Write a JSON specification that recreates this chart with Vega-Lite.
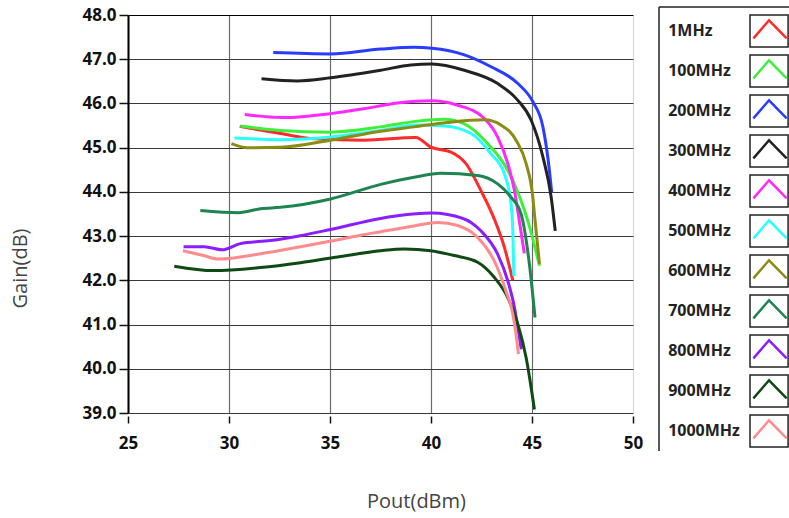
{
  "$schema": "https://vega.github.io/schema/vega-lite/v6.json",
  "background": "white",
  "padding": {"left": 10, "top": 6, "right": 0, "bottom": 4},
  "spacing": 15,
  "config": {"view": {"stroke": null}, "font": "Open Sans"},
  "datasets": {
    "curves": [
      {"f": "1MHz", "p": 30.53, "g": 45.48}, {"f": "1MHz", "p": 32.55, "g": 45.32}, {"f": "1MHz", "p": 34.20, "g": 45.20}, {"f": "1MHz", "p": 36.68, "g": 45.17}, {"f": "1MHz", "p": 39.25, "g": 45.23}, {"f": "1MHz", "p": 39.99, "g": 45.01}, {"f": "1MHz", "p": 40.99, "g": 44.90}, {"f": "1MHz", "p": 41.73, "g": 44.64}, {"f": "1MHz", "p": 42.47, "g": 44.03}, {"f": "1MHz", "p": 43.13, "g": 43.39}, {"f": "1MHz", "p": 43.63, "g": 42.75}, {"f": "1MHz", "p": 44.05, "g": 42.00},
      {"f": "100MHz", "p": 30.56, "g": 45.49}, {"f": "100MHz", "p": 32.55, "g": 45.39}, {"f": "100MHz", "p": 35.03, "g": 45.35}, {"f": "100MHz", "p": 37.51, "g": 45.47}, {"f": "100MHz", "p": 39.33, "g": 45.60}, {"f": "100MHz", "p": 40.65, "g": 45.64}, {"f": "100MHz", "p": 41.65, "g": 45.54}, {"f": "100MHz", "p": 42.81, "g": 45.09}, {"f": "100MHz", "p": 43.80, "g": 44.49}, {"f": "100MHz", "p": 44.46, "g": 43.80}, {"f": "100MHz", "p": 44.79, "g": 43.35}, {"f": "100MHz", "p": 45.37, "g": 42.33},
      {"f": "200MHz", "p": 32.19, "g": 47.15}, {"f": "200MHz", "p": 35.03, "g": 47.12}, {"f": "200MHz", "p": 37.51, "g": 47.23}, {"f": "200MHz", "p": 39.16, "g": 47.27}, {"f": "200MHz", "p": 40.04, "g": 47.25}, {"f": "200MHz", "p": 41.65, "g": 47.10}, {"f": "200MHz", "p": 42.97, "g": 46.83}, {"f": "200MHz", "p": 44.30, "g": 46.45}, {"f": "200MHz", "p": 45.04, "g": 46.04}, {"f": "200MHz", "p": 45.54, "g": 45.47}, {"f": "200MHz", "p": 45.80, "g": 44.72}, {"f": "200MHz", "p": 45.98, "g": 43.97},
      {"f": "300MHz", "p": 31.61, "g": 46.56}, {"f": "300MHz", "p": 33.38, "g": 46.51}, {"f": "300MHz", "p": 35.03, "g": 46.58}, {"f": "300MHz", "p": 37.51, "g": 46.75}, {"f": "300MHz", "p": 39.00, "g": 46.87}, {"f": "300MHz", "p": 40.04, "g": 46.89}, {"f": "300MHz", "p": 41.65, "g": 46.75}, {"f": "300MHz", "p": 43.30, "g": 46.45}, {"f": "300MHz", "p": 44.30, "g": 46.07}, {"f": "300MHz", "p": 44.96, "g": 45.62}, {"f": "300MHz", "p": 45.54, "g": 44.79}, {"f": "300MHz", "p": 45.95, "g": 43.88}, {"f": "300MHz", "p": 46.15, "g": 43.12},
      {"f": "400MHz", "p": 30.78, "g": 45.75}, {"f": "400MHz", "p": 32.63, "g": 45.68}, {"f": "400MHz", "p": 35.03, "g": 45.77}, {"f": "400MHz", "p": 36.68, "g": 45.88}, {"f": "400MHz", "p": 38.34, "g": 46.01}, {"f": "400MHz", "p": 40.04, "g": 46.06}, {"f": "400MHz", "p": 41.32, "g": 45.96}, {"f": "400MHz", "p": 42.64, "g": 45.66}, {"f": "400MHz", "p": 43.30, "g": 45.24}, {"f": "400MHz", "p": 43.80, "g": 44.64}, {"f": "400MHz", "p": 44.13, "g": 44.03}, {"f": "400MHz", "p": 44.37, "g": 43.35}, {"f": "400MHz", "p": 44.62, "g": 42.61},
      {"f": "500MHz", "p": 30.27, "g": 45.22}, {"f": "500MHz", "p": 32.55, "g": 45.18}, {"f": "500MHz", "p": 35.03, "g": 45.24}, {"f": "500MHz", "p": 37.51, "g": 45.39}, {"f": "500MHz", "p": 39.33, "g": 45.51}, {"f": "500MHz", "p": 40.65, "g": 45.49}, {"f": "500MHz", "p": 41.98, "g": 45.32}, {"f": "500MHz", "p": 42.97, "g": 44.86}, {"f": "500MHz", "p": 43.63, "g": 44.41}, {"f": "500MHz", "p": 43.96, "g": 43.73}, {"f": "500MHz", "p": 44.05, "g": 43.12}, {"f": "500MHz", "p": 44.10, "g": 42.10},
      {"f": "600MHz", "p": 30.12, "g": 45.09}, {"f": "600MHz", "p": 30.90, "g": 45.00}, {"f": "600MHz", "p": 32.55, "g": 45.01}, {"f": "600MHz", "p": 35.03, "g": 45.17}, {"f": "600MHz", "p": 37.51, "g": 45.37}, {"f": "600MHz", "p": 39.16, "g": 45.47}, {"f": "600MHz", "p": 40.82, "g": 45.57}, {"f": "600MHz", "p": 42.64, "g": 45.63}, {"f": "600MHz", "p": 43.47, "g": 45.51}, {"f": "600MHz", "p": 44.21, "g": 45.17}, {"f": "600MHz", "p": 44.71, "g": 44.64}, {"f": "600MHz", "p": 45.04, "g": 43.88}, {"f": "600MHz", "p": 45.12, "g": 43.50}, {"f": "600MHz", "p": 45.37, "g": 42.37},
      {"f": "700MHz", "p": 28.58, "g": 43.58}, {"f": "700MHz", "p": 30.48, "g": 43.53}, {"f": "700MHz", "p": 31.56, "g": 43.62}, {"f": "700MHz", "p": 32.55, "g": 43.65}, {"f": "700MHz", "p": 35.03, "g": 43.84}, {"f": "700MHz", "p": 37.51, "g": 44.17}, {"f": "700MHz", "p": 39.16, "g": 44.33}, {"f": "700MHz", "p": 40.49, "g": 44.42}, {"f": "700MHz", "p": 42.31, "g": 44.37}, {"f": "700MHz", "p": 43.30, "g": 44.18}, {"f": "700MHz", "p": 43.96, "g": 43.88}, {"f": "700MHz", "p": 44.46, "g": 43.50}, {"f": "700MHz", "p": 44.87, "g": 42.37}, {"f": "700MHz", "p": 45.15, "g": 41.16},
      {"f": "800MHz", "p": 27.75, "g": 42.76}, {"f": "800MHz", "p": 28.78, "g": 42.76}, {"f": "800MHz", "p": 29.66, "g": 42.69}, {"f": "800MHz", "p": 30.56, "g": 42.83}, {"f": "800MHz", "p": 32.05, "g": 42.90}, {"f": "800MHz", "p": 33.54, "g": 43.01}, {"f": "800MHz", "p": 35.03, "g": 43.15}, {"f": "800MHz", "p": 37.51, "g": 43.40}, {"f": "800MHz", "p": 38.34, "g": 43.46}, {"f": "800MHz", "p": 40.04, "g": 43.52}, {"f": "800MHz", "p": 40.82, "g": 43.49}, {"f": "800MHz", "p": 41.98, "g": 43.31}, {"f": "800MHz", "p": 42.47, "g": 43.12}, {"f": "800MHz", "p": 43.30, "g": 42.59}, {"f": "800MHz", "p": 43.80, "g": 41.99}, {"f": "800MHz", "p": 44.13, "g": 41.39}, {"f": "800MHz", "p": 44.30, "g": 40.93}, {"f": "800MHz", "p": 44.47, "g": 40.44},
      {"f": "900MHz", "p": 27.29, "g": 42.32}, {"f": "900MHz", "p": 29.24, "g": 42.22}, {"f": "900MHz", "p": 31.56, "g": 42.29}, {"f": "900MHz", "p": 33.54, "g": 42.40}, {"f": "900MHz", "p": 35.53, "g": 42.54}, {"f": "900MHz", "p": 37.51, "g": 42.67}, {"f": "900MHz", "p": 38.67, "g": 42.71}, {"f": "900MHz", "p": 39.99, "g": 42.67}, {"f": "900MHz", "p": 41.15, "g": 42.56}, {"f": "900MHz", "p": 42.31, "g": 42.41}, {"f": "900MHz", "p": 43.13, "g": 42.07}, {"f": "900MHz", "p": 43.80, "g": 41.61}, {"f": "900MHz", "p": 44.30, "g": 41.01}, {"f": "900MHz", "p": 44.71, "g": 40.25}, {"f": "900MHz", "p": 45.12, "g": 39.08},
      {"f": "1000MHz", "p": 27.72, "g": 42.67}, {"f": "1000MHz", "p": 28.74, "g": 42.56}, {"f": "1000MHz", "p": 29.49, "g": 42.48}, {"f": "1000MHz", "p": 31.56, "g": 42.60}, {"f": "1000MHz", "p": 33.54, "g": 42.76}, {"f": "1000MHz", "p": 35.53, "g": 42.93}, {"f": "1000MHz", "p": 36.52, "g": 43.02}, {"f": "1000MHz", "p": 37.51, "g": 43.10}, {"f": "1000MHz", "p": 39.16, "g": 43.23}, {"f": "1000MHz", "p": 40.33, "g": 43.31}, {"f": "1000MHz", "p": 41.32, "g": 43.24}, {"f": "1000MHz", "p": 42.31, "g": 42.97}, {"f": "1000MHz", "p": 43.13, "g": 42.44}, {"f": "1000MHz", "p": 43.71, "g": 41.76}, {"f": "1000MHz", "p": 44.05, "g": 41.24}, {"f": "1000MHz", "p": 44.21, "g": 40.78}, {"f": "1000MHz", "p": 44.33, "g": 40.33}
    ],
    "legendRows": [
      {"f": "1MHz"}, {"f": "100MHz"}, {"f": "200MHz"}, {"f": "300MHz"}, {"f": "400MHz"}, {"f": "500MHz"},
      {"f": "600MHz"}, {"f": "700MHz"}, {"f": "800MHz"}, {"f": "900MHz"}, {"f": "1000MHz"}
    ],
    "frame": [{"k": "frame"}]
  },
  "hconcat": [
    {
      "width": 505,
      "height": 398,
      "data": {"name": "curves"},
      "mark": {"type": "line", "strokeWidth": 3, "interpolate": "monotone"},
      "encoding": {
        "x": {
          "field": "p", "type": "quantitative",
          "scale": {"domain": [25, 50], "nice": false, "zero": false},
          "axis": {
            "values": [25, 30, 35, 40, 45, 50],
            "grid": true,
            "gridColor": {"condition": {"test": "datum.value === 50", "value": "#d8d8d8"}, "value": "#6a6a6a"},
            "gridWidth": 1.2,
            "domain": false,
            "offset": 3,
            "tickSize": 7, "tickColor": "#111", "tickWidth": 1.5,
            "labelFont": "Open Sans", "labelFontWeight": "bold", "labelFontSize": 17, "labelColor": "#111",
            "labelPadding": 12, "labelFlush": false, "labelOverlap": false,
            "title": "Pout(dBm)", "titleFont": "Open Sans", "titleFontSize": 20, "titleFontWeight": "normal",
            "titleColor": "#444", "titleX": 288, "titleY": 85, "titleBaseline": "middle", "titleAlign": "center"
          }
        },
        "y": {
          "field": "g", "type": "quantitative",
          "scale": {"domain": [39, 48], "nice": false, "zero": false},
          "axis": {
            "values": [39, 40, 41, 42, 43, 44, 45, 46, 47, 48],
            "format": ".1f",
            "grid": true,
            "gridColor": {"condition": {"test": "datum.value === 48", "value": "#000"}, "value": "#3a3a3a"},
            "gridWidth": 1.2,
            "domain": true, "domainColor": "#000", "domainWidth": 2,
            "tickSize": 9, "tickColor": "#111", "tickWidth": 1.5,
            "labelFont": "Open Sans", "labelFontWeight": "bold", "labelFontSize": 17, "labelColor": "#111",
            "labelPadding": 3, "labelFlush": false, "labelOverlap": false,
            "title": "Gain(dB)", "titleFont": "Open Sans", "titleFontSize": 20, "titleFontWeight": "normal",
            "titleColor": "#444", "titleX": -108, "titleY": 253, "titleBaseline": "middle", "titleAlign": "center", "titleAngle": -90
          }
        },
        "color": {
          "field": "f", "type": "nominal",
          "scale": {
            "domain": ["1MHz", "100MHz", "200MHz", "300MHz", "400MHz", "500MHz", "600MHz", "700MHz", "800MHz", "900MHz", "1000MHz"],
            "range": ["#ff2a2a", "#3cf03c", "#2a3cff", "#222222", "#ff28ff", "#28ffff", "#8c8c14", "#1f8550", "#8a1eff", "#0f4a14", "#ff8c8c"]
          },
          "legend": null
        }
      }
    },
    {
      "width": 131,
      "height": 432,
      "layer": [
        {
          "data": {"name": "frame"},
          "mark": {"type": "rule", "color": "#222", "strokeWidth": 1.5},
          "encoding": {
            "x": {"datum": 0, "type": "quantitative", "scale": {"domain": [0, 1]}, "axis": null},
            "y": {"datum": -0.00926, "type": "quantitative", "scale": {"domain": [0, 1], "zero": false, "nice": false}, "axis": null},
            "y2": {"datum": 1.0185}
          }
        },
        {
          "data": {"name": "frame"},
          "mark": {"type": "rule", "color": "#222", "strokeWidth": 1.5},
          "encoding": {
            "x": {"datum": 0, "type": "quantitative", "scale": {"domain": [0, 1]}, "axis": null},
            "x2": {"datum": 1},
            "y": {"datum": 1.0185, "type": "quantitative", "scale": {"domain": [0, 1], "zero": false, "nice": false}, "axis": null}
          }
        },
        {
          "data": {"name": "legendRows"},
          "encoding": {
            "y": {
              "field": "f", "type": "ordinal", "sort": null,
              "scale": {"type": "point", "padding": 0.4},
              "axis": null
            }
          },
          "layer": [
            {
              "mark": {"type": "text", "align": "left", "baseline": "middle", "font": "Open Sans", "fontSize": 16, "fontWeight": "bold", "color": "#222"},
              "encoding": {
                "x": {"datum": 0.07, "type": "quantitative", "scale": {"domain": [0, 1]}, "axis": null},
                "text": {"field": "f"}
              }
            },
            {
              "mark": {"type": "point", "shape": "M-1.19,-1H1.19V1H-1.19Z", "size": 1024, "filled": false, "stroke": "#222", "strokeWidth": 1.5, "opacity": 1},
              "encoding": {
                "x": {"datum": 0.84, "type": "quantitative", "scale": {"domain": [0, 1]}, "axis": null}
              }
            },
            {
              "mark": {"type": "point", "shape": "M-0.98,0.46L0,-0.67L1.1,0.46", "size": 1024, "filled": false, "strokeWidth": 2.5, "opacity": 1},
              "encoding": {
                "x": {"datum": 0.84, "type": "quantitative", "scale": {"domain": [0, 1]}, "axis": null},
                "color": {"field": "f", "type": "nominal", "legend": null}
              }
            }
          ]
        }
      ],
      "resolve": {"scale": {"y": "independent"}}
    }
  ]
}
